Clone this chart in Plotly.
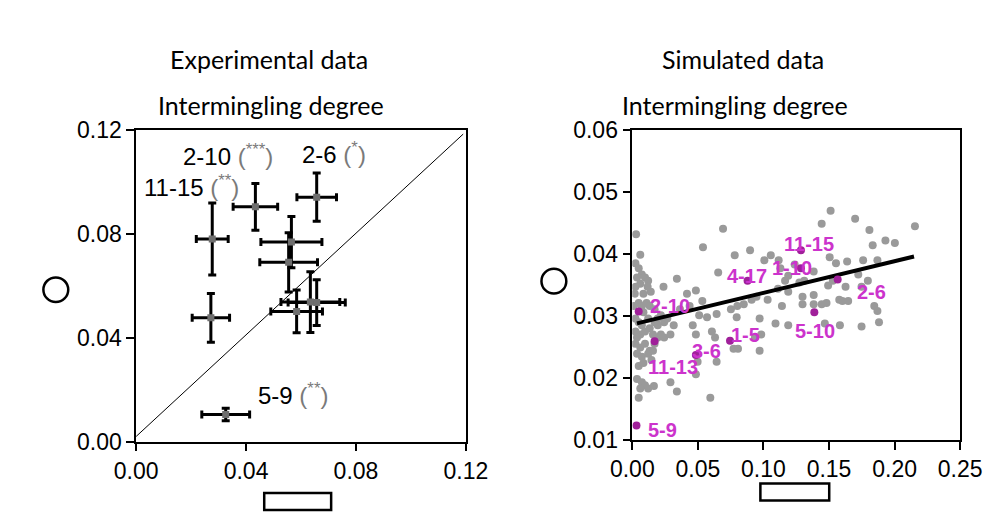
import plotly.graph_objects as go

W, H = 1000, 516

# ---------------- Experimental data ----------------
exp_x = [0.0657, 0.0434, 0.0277, 0.0272, 0.0565, 0.0555, 0.0584, 0.0634, 0.0657, 0.0326]
exp_y = [0.0942, 0.0905, 0.0781, 0.0477, 0.0769, 0.0691, 0.0502, 0.0538, 0.0536, 0.0105]
exp_xerr = [0.0072, 0.0081, 0.0058, 0.0068, 0.0111, 0.0105, 0.0094, 0.0107, 0.0104, 0.0087]
exp_yerr = [0.0093, 0.0090, 0.0139, 0.0094, 0.0099, 0.0114, 0.0082, 0.0117, 0.0088, 0.0024]
diag_x = [0.0, 0.119]
diag_y = [0.002, 0.1185]
exp_labels = ["2-10", "2-6", "11-15", "5-9"]
exp_stars = ["***", "*", "**", "**"]
exp_label_x = [0.0165, 0.0598, 0.0020, 0.0438]
exp_label_y = [0.1105, 0.1112, 0.0985, 0.0183]

# ---------------- Simulated data ----------------
sim_x = [0.0029, 0.0061, 0.0024, 0.0049, 0.0073, 0.0097, 0.0121, 0.0117, 0.0141, 0.0036,
         0.0061, 0.0085, 0.0049, 0.0073, 0.0109, 0.0133, 0.0170, 0.0024, 0.0049, 0.0073,
         0.0024, 0.0061, 0.0097, 0.0133, 0.0170, 0.0194, 0.0218, 0.0243, 0.0267, 0.0024,
         0.0061, 0.0097, 0.0133, 0.0036, 0.0073, 0.0121, 0.0158, 0.0194, 0.0218, 0.0170,
         0.0049, 0.0036, 0.0073, 0.0097, 0.0121, 0.0061, 0.0049, 0.0165, 0.0194, 0.0243,
         0.0012, 0.0019, 0.0024, 0.0085, 0.0121, 0.0158, 0.0036, 0.0085, 0.0146,
         0.0238, 0.0340, 0.0417, 0.0485, 0.0534, 0.0510, 0.0570, 0.0485, 0.0607, 0.0643,
         0.0655, 0.0692, 0.0539, 0.0781, 0.0801, 0.0796, 0.0772, 0.0806, 0.0898, 0.0910,
         0.0971, 0.0983, 0.0971, 0.0947, 0.1007, 0.1056, 0.1116, 0.1111, 0.1141, 0.1129,
         0.1165, 0.1189, 0.1238, 0.1092, 0.1189, 0.1274, 0.1311, 0.1298, 0.1298, 0.1383,
         0.1383, 0.1444, 0.1512, 0.1505, 0.1493, 0.1444, 0.1468, 0.1553, 0.1578, 0.1602,
         0.1583, 0.1626, 0.1638, 0.1646, 0.1699, 0.1748, 0.1760, 0.1808, 0.1833, 0.1869,
         0.1845, 0.1869, 0.1930, 0.2002, 0.1881, 0.2155, 0.0498, 0.0485, 0.0595, 0.0291,
         0.0340, 0.0631, 0.0643, 0.0935, 0.0364, 0.0437, 0.0316, 0.0291, 0.0461, 0.0752,
         0.0850, 0.1032, 0.1189, 0.1383, 0.1481, 0.1529, 0.1723, 0.1796, 0.1748]
sim_y = [0.0432, 0.0399, 0.0385, 0.0377, 0.0367, 0.0362, 0.0357, 0.0347, 0.0339, 0.0362,
         0.0352, 0.0336, 0.0321, 0.0316, 0.0321, 0.0316, 0.0311, 0.0296, 0.0290, 0.0285,
         0.0275, 0.0270, 0.0275, 0.0280, 0.0290, 0.0296, 0.0301, 0.0290, 0.0296, 0.0255,
         0.0249, 0.0255, 0.0244, 0.0239, 0.0234, 0.0239, 0.0244, 0.0265, 0.0270, 0.0255,
         0.0219, 0.0198, 0.0193, 0.0188, 0.0183, 0.0183, 0.0168, 0.0187, 0.0285, 0.0265,
         0.0316, 0.0336, 0.0347, 0.0306, 0.0296, 0.0270, 0.0265, 0.0224, 0.0229,
         0.0347, 0.0360, 0.0336, 0.0341, 0.0324, 0.0301, 0.0298, 0.0270, 0.0275, 0.0303,
         0.0370, 0.0441, 0.0411, 0.0398, 0.0316, 0.0298, 0.0247, 0.0247, 0.0406, 0.0326,
         0.0296, 0.0270, 0.0244, 0.0331, 0.0390, 0.0398, 0.0390, 0.0344, 0.0316, 0.0377,
         0.0357, 0.0365, 0.0383, 0.0288, 0.0285, 0.0354, 0.0357, 0.0331, 0.0319, 0.0334,
         0.0319, 0.0449, 0.0470, 0.0395, 0.0349, 0.0319, 0.0288, 0.0385, 0.0326, 0.0324,
         0.0285, 0.0347, 0.0388, 0.0324, 0.0457, 0.0283, 0.0390, 0.0439, 0.0414, 0.0390,
         0.0316, 0.0308, 0.0422, 0.0418, 0.0290, 0.0445, 0.0226, 0.0206, 0.0168, 0.0193,
         0.0178, 0.0265, 0.0226, 0.0265, 0.0311, 0.0316, 0.0285, 0.0270, 0.0285, 0.0311,
         0.0319, 0.0326, 0.0339, 0.0372, 0.0321, 0.0357, 0.0367, 0.0357, 0.0347]

hl_names = ["2-10", "11-13", "3-6", "1-5", "4-17", "1-10", "11-15", "2-6", "5-10", "5-9"]
hl_x = [0.0049, 0.0170, 0.0485, 0.0745, 0.0879, 0.1286, 0.1286, 0.1566, 0.1388, 0.0032]
hl_y = [0.0307, 0.0259, 0.0237, 0.0260, 0.0357, 0.0377, 0.0406, 0.0359, 0.0306, 0.0123]
hl_label_x = [0.0291, 0.0310, 0.0565, 0.0862, 0.0874, 0.1221, 0.1347, 0.1825, 0.1396, 0.0231]
hl_label_y = [0.0316, 0.0217, 0.0244, 0.0270, 0.0365, 0.0377, 0.0417, 0.0339, 0.0275, 0.0116]

fit_x = [0.0036, 0.2148]
fit_y = [0.0288, 0.0396]

left_ticks = [0.0, 0.04, 0.08, 0.12]
sim_xticks = [0.0, 0.05, 0.10, 0.15, 0.20, 0.25]
sim_yticks = [0.01, 0.02, 0.03, 0.04, 0.05, 0.06]

TICKFONT = dict(family="Liberation Sans, Arial, sans-serif", size=23, color="black")
TITLEFONT = dict(family="Lato, sans-serif", size=25, color="black")


def px(xp):
    return xp / W


def py(yp):
    return 1 - yp / H


fig = go.Figure()

fig.add_trace(go.Scatter(x=diag_x, y=diag_y, mode="lines",
                         line=dict(color="black", width=1), xaxis="x", yaxis="y",
                         showlegend=False, hoverinfo="skip"))
fig.add_trace(go.Scatter(
    x=exp_x, y=exp_y, mode="markers", xaxis="x", yaxis="y", showlegend=False,
    marker=dict(symbol="square", size=7, color="#6e6e6e"),
    error_x=dict(type="data", array=exp_xerr, color="black", thickness=3, width=4),
    error_y=dict(type="data", array=exp_yerr, color="black", thickness=3, width=4),
))

fig.add_trace(go.Scatter(
    x=sim_x, y=sim_y, mode="markers", xaxis="x2", yaxis="y2", showlegend=False,
    marker=dict(symbol="circle", size=8, color="#9a9a9a"),
))
fig.add_trace(go.Scatter(
    x=fit_x, y=fit_y, mode="lines", xaxis="x2", yaxis="y2", showlegend=False,
    line=dict(color="black", width=4),
))
fig.add_trace(go.Scatter(
    x=hl_x, y=hl_y, mode="markers", xaxis="x2", yaxis="y2", showlegend=False,
    marker=dict(symbol="circle", size=8, color="#a0209a"),
))

annotations = []
for name, st, lx, ly in zip(exp_labels, exp_stars, exp_label_x, exp_label_y):
    annotations.append(dict(
        x=lx, y=ly, xref="x", yref="y", xanchor="left", yanchor="middle",
        text=f"{name} <span style='color:#7a7a7a'>(<sup>{st}</sup>)</span>",
        showarrow=False, font=dict(family="Liberation Sans, Arial, sans-serif", size=24, color="black"),
    ))
for name, lx, ly in zip(hl_names, hl_label_x, hl_label_y):
    annotations.append(dict(
        x=lx, y=ly, xref="x2", yref="y2", xanchor="center", yanchor="middle",
        text=f"<b>{name}</b>", showarrow=False,
        font=dict(family="Liberation Sans, Arial, sans-serif", size=20, color="#cc33cc"),
    ))

for txt, xp, yp in [("Experimental data", 250, 40), ("Intermingling degree", 252, 88),
                    ("Simulated data", 746, 40), ("Intermingling degree", 737, 88)]:
    annotations.append(dict(x=px(xp), y=py(yp), xref="paper", yref="paper",
                            xanchor="center", yanchor="middle", text=txt,
                            showarrow=False, font=TITLEFONT))

shapes = [
    dict(type="circle", xref="paper", yref="paper", x0=px(14), x1=px(40), y0=py(296), y1=py(270),
         line=dict(color="black", width=2.5)),
    dict(type="circle", xref="paper", yref="paper", x0=px(535), x1=px(561), y0=py(287), y1=py(261),
         line=dict(color="black", width=2.5)),
    dict(type="rect", xref="paper", yref="paper", x0=px(245), x1=px(315), y0=py(515), y1=py(497),
         line=dict(color="black", width=2.5)),
    dict(type="rect", xref="paper", yref="paper", x0=px(764), x1=px(836), y0=py(505), y1=py(487),
         line=dict(color="black", width=2.5)),
]

axis_common = dict(showgrid=False, zeroline=False, showline=True, linecolor="black",
                   linewidth=1.5, mirror=True, ticks="outside", ticklen=8, tickwidth=1.5,
                   tickcolor="black", tickfont=TICKFONT, tickformat=".2f")

fig.update_layout(
    width=W, height=H, margin=dict(l=0, r=0, t=0, b=0),
    paper_bgcolor="white", plot_bgcolor="white",
    xaxis=dict(domain=[px(111), px(456)], range=[0, 0.12], tickvals=left_ticks,
               anchor="y", **axis_common),
    yaxis=dict(domain=[py(443), py(115)], range=[0, 0.12], tickvals=left_ticks,
               anchor="x", **axis_common),
    xaxis2=dict(domain=[px(630), px(973)], range=[0, 0.25], tickvals=sim_xticks,
                anchor="y2", **axis_common),
    yaxis2=dict(domain=[py(441), py(115)], range=[0.01, 0.06], tickvals=sim_yticks,
                anchor="x2", **axis_common),
    annotations=annotations, shapes=shapes,
)

fig.write_html("out.html")
